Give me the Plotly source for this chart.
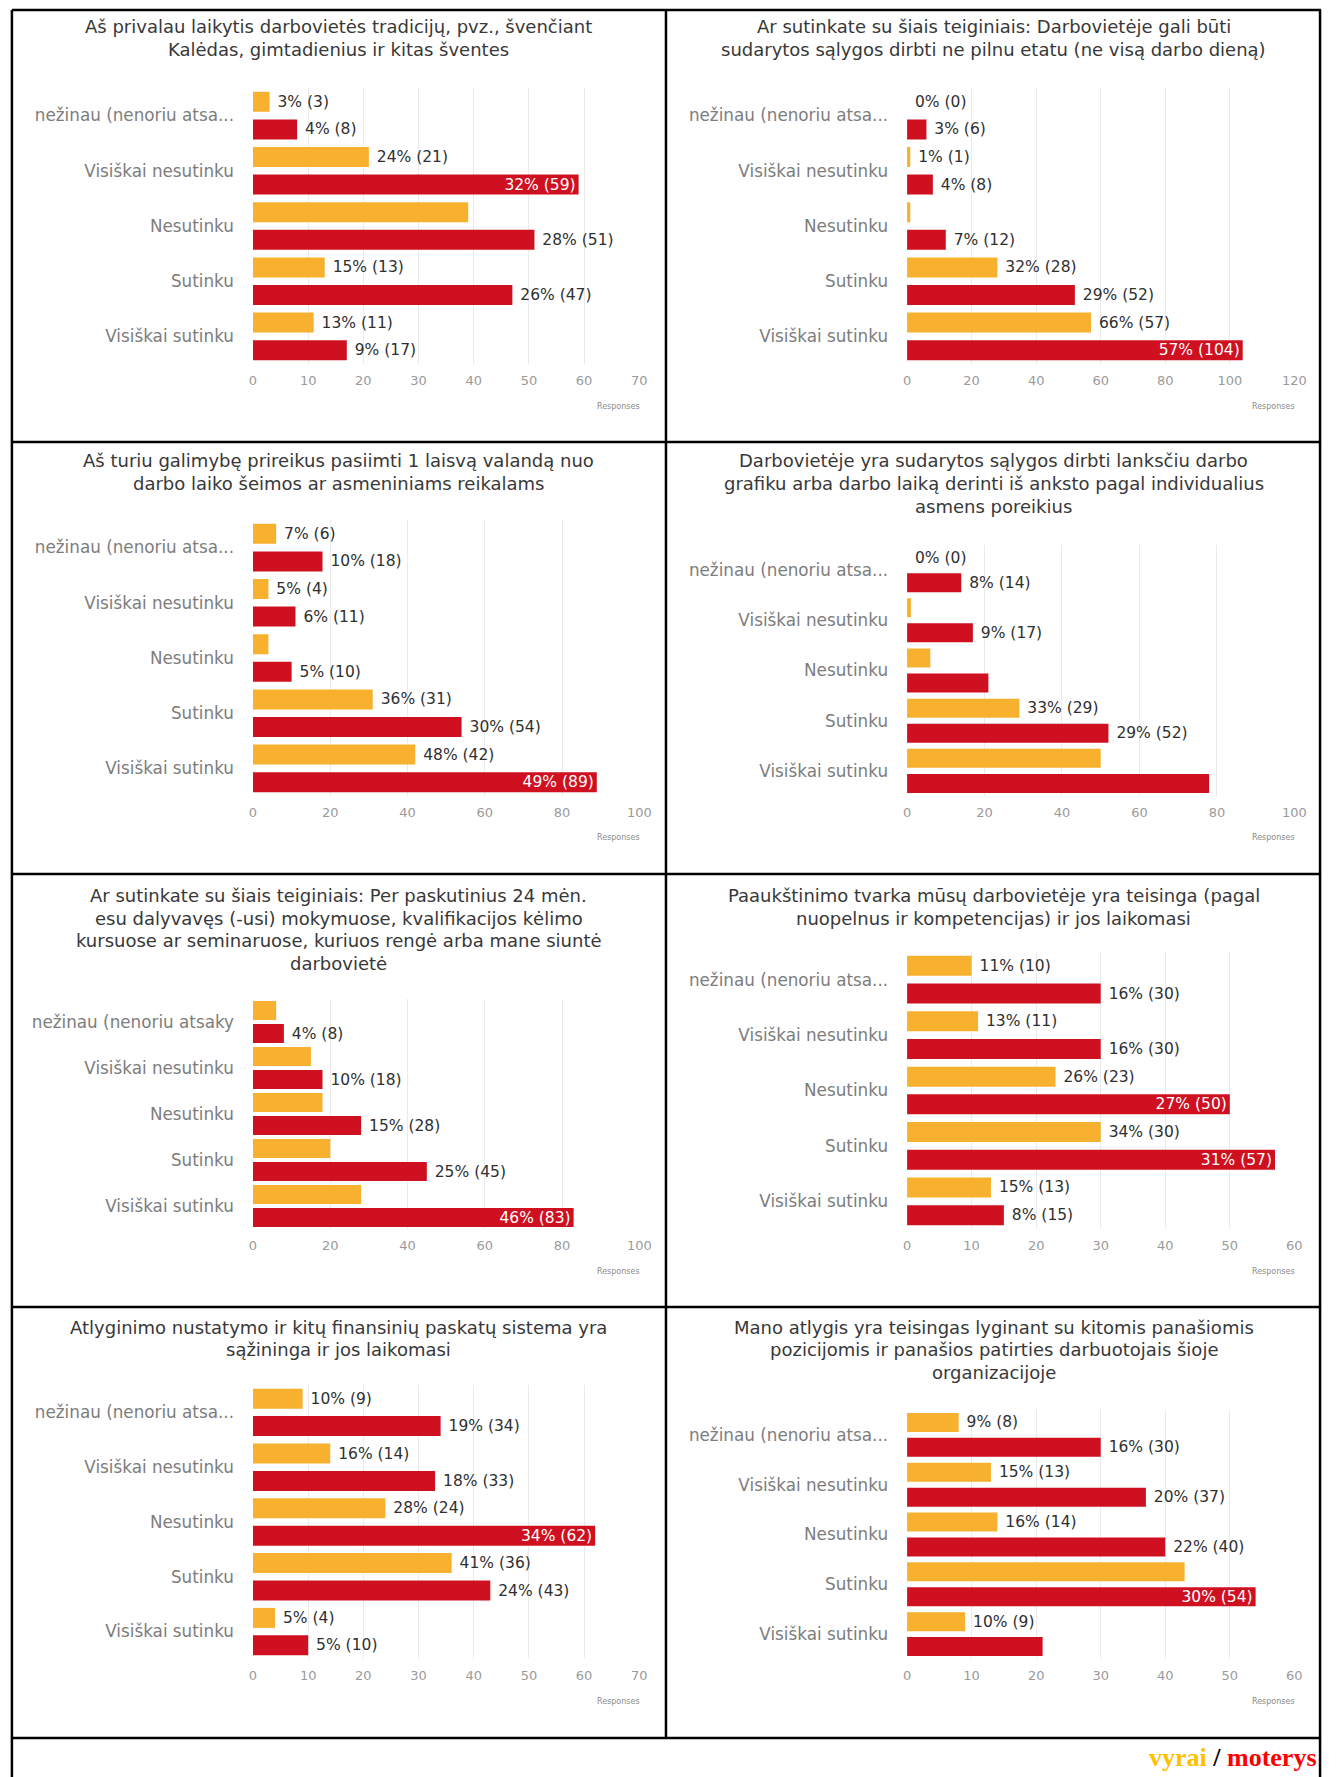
import plotly.graph_objects as go

W, H = 1336, 1777
YELLOW = "#F7B12F"
RED = "#CF1020"
FONT = "DejaVu Sans"

# Answer categories (top to bottom)
categories = ["nežinau (nenoriu atsa...", "Visiškai nesutinku", "Nesutinku",
              "Sutinku", "Visiškai sutinku"]
categories_q5 = ["nežinau (nenoriu atsaky", "Visiškai nesutinku", "Nesutinku",
                 "Sutinku", "Visiškai sutinku"]

# Q1
q1_title = ["Aš privalau laikytis darbovietės tradicijų, pvz., švenčiant",
            "Kalėdas, gimtadienius ir kitas šventes"]
q1_men = [3, 21, 39, 13, 11]
q1_men_pct = [3, 24, None, 15, 13]
q1_women = [8, 59, 51, 47, 17]
q1_women_pct = [4, 32, 28, 26, 9]
q1_axis = (70, 10)

# Q2
q2_title = ["Ar sutinkate su šiais teiginiais: Darbovietėje gali būti",
            "sudarytos sąlygos dirbti ne pilnu etatu (ne visą darbo dieną)"]
q2_men = [0, 1, 1, 28, 57]
q2_men_pct = [0, 1, None, 32, 66]
q2_women = [6, 8, 12, 52, 104]
q2_women_pct = [3, 4, 7, 29, 57]
q2_axis = (120, 20)

# Q3
q3_title = ["Aš turiu galimybę prireikus pasiimti 1 laisvą valandą nuo",
            "darbo laiko šeimos ar asmeniniams reikalams"]
q3_men = [6, 4, 4, 31, 42]
q3_men_pct = [7, 5, None, 36, 48]
q3_women = [18, 11, 10, 54, 89]
q3_women_pct = [10, 6, 5, 30, 49]
q3_axis = (100, 20)

# Q4
q4_title = ["Darbovietėje yra sudarytos sąlygos dirbti lanksčiu darbo",
            "grafiku arba darbo laiką derinti iš anksto pagal individualius",
            "asmens poreikius"]
q4_men = [0, 1, 6, 29, 50]
q4_men_pct = [0, None, None, 33, None]
q4_women = [14, 17, 21, 52, 78]
q4_women_pct = [8, 9, None, 29, None]
q4_axis = (100, 20)

# Q5
q5_title = ["Ar sutinkate su šiais teiginiais: Per paskutinius 24 mėn.",
            "esu dalyvavęs (-usi) mokymuose, kvalifikacijos kėlimo",
            "kursuose ar seminaruose, kuriuos rengė arba mane siuntė",
            "darbovietė"]
q5_men = [6, 15, 18, 20, 28]
q5_men_pct = [None, None, None, None, None]
q5_women = [8, 18, 28, 45, 83]
q5_women_pct = [4, 10, 15, 25, 46]
q5_axis = (100, 20)

# Q6
q6_title = ["Paaukštinimo tvarka mūsų darbovietėje yra teisinga (pagal",
            "nuopelnus ir kompetencijas) ir jos laikomasi"]
q6_men = [10, 11, 23, 30, 13]
q6_men_pct = [11, 13, 26, 34, 15]
q6_women = [30, 30, 50, 57, 15]
q6_women_pct = [16, 16, 27, 31, 8]
q6_axis = (60, 10)

# Q7
q7_title = ["Atlyginimo nustatymo ir kitų finansinių paskatų sistema yra",
            "sąžininga ir jos laikomasi"]
q7_men = [9, 14, 24, 36, 4]
q7_men_pct = [10, 16, 28, 41, 5]
q7_women = [34, 33, 62, 43, 10]
q7_women_pct = [19, 18, 34, 24, 5]
q7_axis = (70, 10)

# Q8
q8_title = ["Mano atlygis yra teisingas lyginant su kitomis panašiomis",
            "pozicijomis ir panašios patirties darbuotojais šioje",
            "organizacijoje"]
q8_men = [8, 13, 14, 43, 9]
q8_men_pct = [9, 15, 16, None, 10]
q8_women = [30, 37, 40, 54, 21]
q8_women_pct = [16, 20, 22, 30, None]
q8_axis = (60, 10)

panels = [
    (q1_title, categories, q1_men, q1_men_pct, q1_women, q1_women_pct, q1_axis),
    (q2_title, categories, q2_men, q2_men_pct, q2_women, q2_women_pct, q2_axis),
    (q3_title, categories, q3_men, q3_men_pct, q3_women, q3_women_pct, q3_axis),
    (q4_title, categories, q4_men, q4_men_pct, q4_women, q4_women_pct, q4_axis),
    (q5_title, categories_q5, q5_men, q5_men_pct, q5_women, q5_women_pct, q5_axis),
    (q6_title, categories, q6_men, q6_men_pct, q6_women, q6_women_pct, q6_axis),
    (q7_title, categories, q7_men, q7_men_pct, q7_women, q7_women_pct, q7_axis),
    (q8_title, categories, q8_men, q8_men_pct, q8_women, q8_women_pct, q8_axis),
]

# Table grid (pixels)
cell_x = [(8, 670), (670, 1333)]
cell_y = [(10, 442), (442, 874), (874, 1307), (1307, 1737)]
plot_x = [(252, 643), (914, 1306)]
title_first = [17, 19, 21.5, 20]
title_step = 22.7
top_pad = {2: 78, 3: 103, 4: 125}
bottom_pad = 78


def px_x(v):
    return v / W


def px_y(v):
    return 1 - v / H


fig = go.Figure()
annotations = []
layout = {}

for k, (title, cats, men, men_pct, women, women_pct, (amax, dtick)) in enumerate(panels):
    col, row = k % 2, k // 2
    cx0, cx1 = cell_x[col]
    cy0, cy1 = cell_y[row]
    px0, px1 = plot_x[col]
    top = cy0 + top_pad[len(title)]
    bottom = cy1 - bottom_pad
    cat_px = (bottom - top) / len(cats)
    bar_px = 20 if cat_px > 52 else 19
    bw = bar_px / cat_px

    sfx = "" if k == 0 else str(k + 1)
    xa, ya = "x" + sfx, "y" + sfx

    for vals, pcts, color, shift in ((men, men_pct, YELLOW, -0.25),
                                     (women, women_pct, RED, 0.25)):
        texts, poss = [], []
        for v, p in zip(vals, pcts):
            if p is None:
                texts.append("")
                poss.append("none")
            elif v > 0.8 * amax:
                texts.append(f"{p}% ({v})")
                poss.append("inside")
            else:
                texts.append("\u00a0" + f"{p}% ({v})")
                poss.append("outside")
        fig.add_trace(go.Bar(
            x=vals, y=cats, orientation="h",
            xaxis=xa, yaxis=ya,
            marker=dict(color=color, line=dict(width=0)),
            width=bw, offset=shift - bw / 2,
            text=texts, textposition=poss,
            insidetextanchor="end",
            insidetextfont=dict(family=FONT, size=15.5, color="white"),
            outsidetextfont=dict(family=FONT, size=15.5, color="#303030"),
            constraintext="none", cliponaxis=False, textangle=0,
            hoverinfo="skip", showlegend=False,
        ))

    layout["xaxis" + sfx] = dict(
        domain=[px_x(px0), px_x(px1)], anchor=ya,
        range=[0, amax], dtick=dtick, tick0=0,
        showgrid=True, gridcolor="#ebebeb", gridwidth=1,
        zeroline=False, showline=False, ticks="",
        ticklabelstandoff=7,
        tickfont=dict(family=FONT, size=13, color="#9a9a9a"),
        fixedrange=True,
    )
    layout["yaxis" + sfx] = dict(
        domain=[px_y(bottom), px_y(top)], anchor=xa,
        type="category", categoryorder="array", categoryarray=cats,
        range=[len(cats) - 0.5, -0.5],
        showgrid=False, zeroline=False, showline=False, ticks="",
        ticklabelstandoff=18,
        tickfont=dict(family=FONT, size=16.8, color="#7d7d7d"),
        fixedrange=True,
    )

    # question title, one annotation per line
    for j, line in enumerate(title):
        annotations.append(dict(
            xref="paper", yref="paper",
            x=px_x((cx0 + cx1) / 2), y=px_y(cy0 + title_first[row] + j * title_step),
            xanchor="center", yanchor="middle", showarrow=False,
            text=line, font=dict(family=FONT, size=18, color="#383838"),
        ))
    # axis caption
    annotations.append(dict(
        xref="paper", yref="paper",
        x=px_x(px1 + 3), y=px_y(bottom + 42),
        xanchor="right", yanchor="middle", showarrow=False,
        text="Responses", font=dict(family=FONT, size=8, color="#8a8a8a"),
    ))

# series key below the grid
annotations.append(dict(
    xref="paper", yref="paper",
    x=px_x(1331), y=px_y(1757), xanchor="right", yanchor="middle",
    showarrow=False,
    text="<b><span style='color:#FFC000'>vyrai</span> / "
         "<span style='color:#FF0000'>moterys</span></b>",
    font=dict(family="Liberation Serif", size=26, color="#000000"),
))

# table borders
shapes = []
line_style = dict(color="#000000", width=2.5)
for yy in (10, 442, 874, 1307, 1738):
    shapes.append(dict(type="line", xref="paper", yref="paper",
                       x0=px_x(8), x1=px_x(1333), y0=px_y(yy), y1=px_y(yy),
                       line=line_style))
for xx, y_end in ((8, 1777), (1332, 1777), (670, 1738)):
    shapes.append(dict(type="line", xref="paper", yref="paper",
                       x0=px_x(xx), x1=px_x(xx), y0=px_y(10), y1=px_y(y_end),
                       line=line_style))

fig.update_layout(
    width=W, height=H,
    margin=dict(l=0, r=0, t=0, b=0),
    paper_bgcolor="white", plot_bgcolor="white",
    barmode="overlay",
    annotations=annotations, shapes=shapes,
    font=dict(family=FONT),
    **layout,
)

fig.write_html("out.html", config={"displayModeBar": False})
